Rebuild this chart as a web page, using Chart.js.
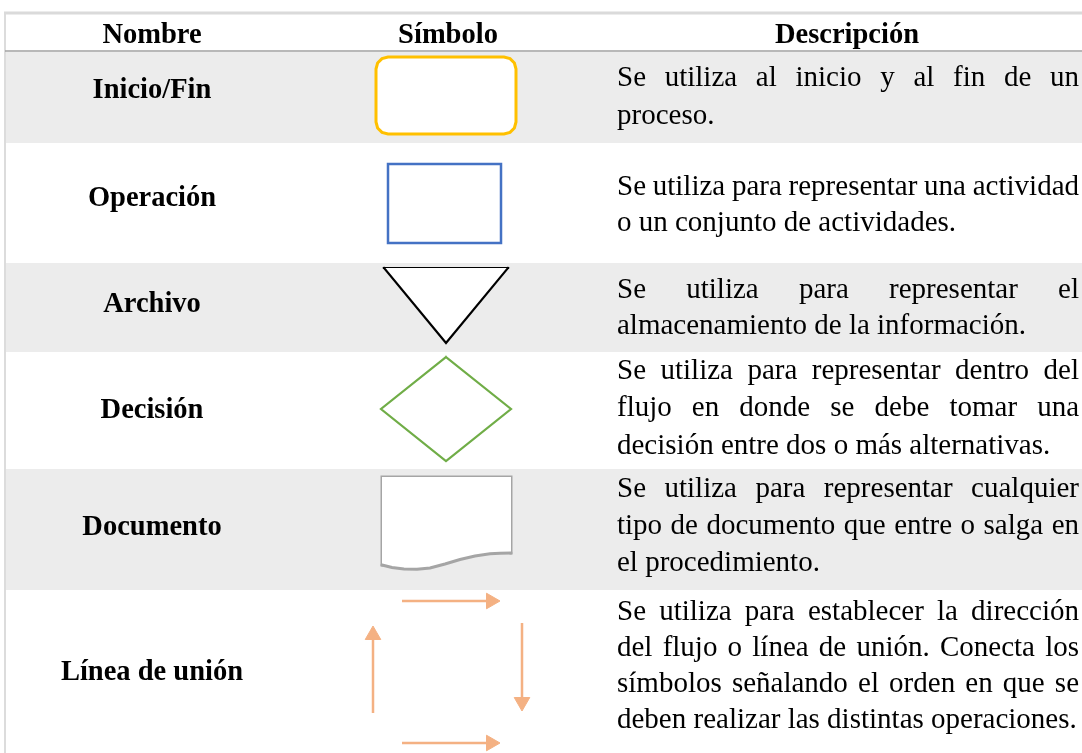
<!DOCTYPE html>
<html>
<head>
<meta charset="utf-8">
<script src="https://cdn.jsdelivr.net/npm/chart.js"></script>
<style>
  body { margin: 0; background: #ffffff; }
  canvas { display: block; }
</style>
</head>
<body>
<canvas id="tabla" width="1082" height="753"></canvas>
<script>
// ---- contenido de la tabla ----
var headers = ["Nombre", "Símbolo", "Descripción"];
var names = ["Inicio/Fin", "Operación", "Archivo", "Decisión", "Documento", "Línea de unión"];
var descriptions = [
    ["Se utiliza al inicio y al fin de un", "proceso."],
    ["Se utiliza para representar una actividad", "o un conjunto de actividades."],
    ["Se utiliza para representar el", "almacenamiento de la información."],
    ["Se utiliza para representar dentro del", "flujo en donde se debe tomar una", "decisión entre dos o más alternativas."],
    ["Se utiliza para representar cualquier", "tipo de documento que entre o salga en", "el procedimiento."],
    ["Se utiliza para establecer la dirección", "del flujo o línea de unión. Conecta los", "símbolos señalando el orden en que se", "deben realizar las distintas operaciones."]
];

// filas: limite superior e inferior (unidades del eje y)
var rowTop = [52, 143, 263, 352, 469, 590];
var rowBottom = [143, 263, 352, 469, 590, 753];
var rowShaded = [true, false, true, false, true, false];

// simbolos (vertices en unidades de los ejes)
var startTop = [{x:376,y:96},{x:376,y:69},{x:377.6,y:63},{x:382,y:58.6},{x:388,y:57},{x:504,y:57},{x:510,y:58.6},{x:514.4,y:63},{x:516,y:69},{x:516,y:96}];
var startBottom = [{x:376,y:96},{x:376,y:122},{x:377.6,y:128},{x:382,y:132.4},{x:388,y:134},{x:504,y:134},{x:510,y:132.4},{x:514.4,y:128},{x:516,y:122},{x:516,y:96}];
var operation = [{x:388,y:164},{x:501,y:164},{x:501,y:243},{x:388,y:243},{x:388,y:164}];
var fileV = [{x:384,y:268},{x:446,y:343},{x:508,y:268}];
var fileTop = [{x:384,y:268},{x:508,y:268}];
var decision = [{x:446,y:357},{x:511,y:409},{x:446,y:461},{x:381,y:409},{x:446,y:357}];
var docFrame = [{x:382,y:565},{x:382,y:477},{x:511,y:477},{x:511,y:553}];
var docWave = [{x:382,y:565},{x:392,y:567.5},{x:404,y:569},{x:417,y:569.3},{x:430,y:568},{x:445,y:564},{x:460,y:559.5},{x:475,y:556},{x:490,y:553.8},{x:500,y:553.2},{x:511,y:553}];
var arrowTop = [{x:402,y:601},{x:491,y:601}];
var arrowUp = [{x:373,y:713},{x:373,y:635}];
var arrowDown = [{x:522,y:623},{x:522,y:702}];
var arrowBottom = [{x:402,y:743},{x:491,y:743}];

// ---- disposicion del texto ----
var colCenters = [152, 448, 847];
var headerBaseline = 43;
var nameBaselines = [98, 206, 312, 418, 535, 680];
var descBaselines = [[86, 124], [195, 231], [298, 334], [379, 416, 454], [497, 534, 571], [620, 656, 692, 728]];
var descLeft = 617, descRight = 1079;

function outline(data, color, width, extra) {
    var ds = {
        data: data,
        borderColor: color,
        borderWidth: width,
        backgroundColor: "#ffffff",
        fill: false,
        pointRadius: 0,
        tension: 0,
        borderCapStyle: "square",
        order: 1
    };
    for (var k in extra) ds[k] = extra[k];
    return ds;
}

function arrow(data, rotation) {
    return {
        data: data,
        borderColor: "#F4B183",
        borderWidth: 2.5,
        fill: false,
        tension: 0,
        pointRadius: [0, 9],
        pointStyle: "triangle",
        pointRotation: rotation,
        pointBackgroundColor: "#F4B183",
        pointBorderColor: "#F4B183",
        pointBorderWidth: 1,
        order: 1
    };
}

var datasets = [
    outline(startTop, "#FFC000", 3, {fill: {value: 96}, borderCapStyle: "butt"}),
    outline(startBottom, "#FFC000", 3, {fill: {value: 96}, borderCapStyle: "butt"}),
    outline(operation, "#4472C4", 2.5),
    outline(fileV, "#000000", 2.2, {fill: {value: 268}}),
    outline(fileTop, "#000000", 2.2),
    outline(decision, "#70AD47", 2.2),
    outline(docWave, "#A5A5A5", 3, {fill: {value: 477}, borderCapStyle: "round"}),
    outline(docFrame, "#A5A5A5", 3),
    arrow(arrowTop, 90),
    arrow(arrowUp, 0),
    arrow(arrowDown, 180),
    arrow(arrowBottom, 90),
    // bordes de la tabla
    outline([{x:5,y:51},{x:1082,y:51}], "#a0a0a0", 1.5, {order: 5, borderCapStyle: "butt"}),
    outline([{x:4,y:13},{x:1082,y:13}], "#dadada", 3, {order: 5, borderCapStyle: "butt"}),
    outline([{x:5,y:13},{x:5,y:753}], "#dcdcdc", 2, {order: 5, borderCapStyle: "butt"})
];

// fondos de filas
for (var i = 0; i < rowTop.length; i++) {
    if (!rowShaded[i]) continue;
    datasets.push({
        data: [{x: 6, y: rowTop[i]}, {x: 1082, y: rowTop[i]}],
        borderColor: "rgba(0,0,0,0)",
        borderWidth: 0,
        backgroundColor: "#ececec",
        fill: {value: rowBottom[i]},
        pointRadius: 0,
        tension: 0,
        order: 10
    });
}

var textPlugin = {
    id: "textoTabla",
    afterDatasetsDraw: function (chart) {
        var ctx = chart.ctx, sx = chart.scales.x, sy = chart.scales.y;
        ctx.save();
        ctx.fillStyle = "#000000";
        ctx.textBaseline = "alphabetic";
        ctx.textAlign = "center";
        ctx.font = 'bold 28.5px "Liberation Serif", "Times New Roman", serif';
        headers.forEach(function (h, i) {
            ctx.fillText(h, sx.getPixelForValue(colCenters[i]), sy.getPixelForValue(headerBaseline));
        });
        names.forEach(function (n, i) {
            ctx.fillText(n, sx.getPixelForValue(colCenters[0]), sy.getPixelForValue(nameBaselines[i]));
        });

        ctx.textAlign = "left";
        ctx.font = '29px "Liberation Serif", "Times New Roman", serif';
        var left = sx.getPixelForValue(descLeft), right = sx.getPixelForValue(descRight);
        descriptions.forEach(function (lines, i) {
            lines.forEach(function (line, j) {
                var y = sy.getPixelForValue(descBaselines[i][j]);
                if (j === lines.length - 1) {
                    ctx.fillText(line, left, y);
                    return;
                }
                // texto justificado
                var words = line.split(" ");
                var wordsW = 0;
                words.forEach(function (w) { wordsW += ctx.measureText(w).width; });
                var gap = (right - left - wordsW) / (words.length - 1);
                var x = left;
                words.forEach(function (w) {
                    ctx.fillText(w, x, y);
                    x += ctx.measureText(w).width + gap;
                });
            });
        });
        ctx.restore();
    }
};

var ctx = document.getElementById("tabla").getContext("2d");
var myChart = new Chart(ctx, {
    type: "line",
    data: { datasets: datasets },
    options: {
        responsive: false,
        animation: false,
        events: [],
        layout: { padding: 0, autoPadding: false },
        scales: {
            x: { type: "linear", min: 0, max: 1082, display: false },
            y: { type: "linear", min: 0, max: 753, reverse: true, display: false }
        },
        plugins: {
            legend: { display: false },
            tooltip: { enabled: false }
        }
    },
    plugins: [textPlugin]
});
</script>
</body>
</html>
